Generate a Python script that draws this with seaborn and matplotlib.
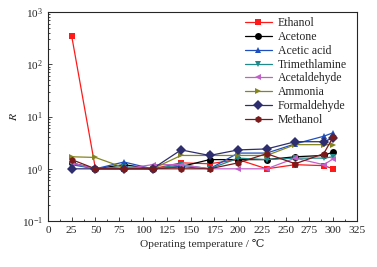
import pandas as pd
import numpy as np
import matplotlib
matplotlib.use("Agg")
import matplotlib.pyplot as plt
import seaborn as sns
from matplotlib.ticker import MultipleLocator, LogLocator

sns.set_style("ticks")
plt.rcParams['font.family'] = ['Liberation Serif', 'DejaVu Serif']
plt.rcParams['mathtext.fontset'] = 'stix'

# -----------------------------
# data
# -----------------------------
temps = [25, 50, 80, 110, 140, 170, 200, 230, 260, 290, 300]

ethanol        = [350, 1.0, 1.0, 1.0, 1.3, 1.25, 1.5, 1.0, 1.2, 1.15, 1.0]
acetone        = [1.3, 1.0, 1.2, 1.0, 1.1, 1.5, 1.5, 1.5, 1.7, 1.8, 2.1]
acetic_acid    = [1.2, 1.0, 1.35, 1.0, 1.1, 1.0, 2.0, 2.0, 3.0, 4.2, 4.9]
trimethlamine  = [1.25, 1.0, 1.1, 1.0, 1.2, 1.0, 1.6, 1.5, 1.6, 1.6, 1.7]
acetaldehyde   = [1.3, 1.0, 1.0, 1.2, 1.2, 1.0, 1.0, 1.0, 1.6, 1.2, 1.55]
ammonia        = [1.7, 1.65, 1.05, 1.0, 1.8, 1.8, 1.8, 1.8, 2.9, 2.9, 2.9]
formaldehyde   = [1.0, 1.0, 1.0, 1.0, 2.3, 1.8, 2.3, 2.4, 3.3, 3.3, 3.9]
methanol       = [1.5, 1.0, 1.0, 1.0, 1.0, 1.0, 1.3, 1.95, 1.25, 1.95, 4.1]

names = ['Ethanol', 'Acetone', 'Acetic acid', 'Trimethlamine',
         'Acetaldehyde', 'Ammonia', 'Formaldehyde', 'Methanol']
series = [ethanol, acetone, acetic_acid, trimethlamine,
          acetaldehyde, ammonia, formaldehyde, methanol]
colors = ['#ff1a1a', '#000000', '#1f4fbf', '#1f8a8a',
          '#c060c8', '#858520', '#2e2e6e', '#7a1a1a']
markers = ['s', 'o', '^', 'v', '<', '>', 'D', 'h']

df = pd.DataFrame({
    'T': np.tile(temps, len(names)),
    'R': np.concatenate(series),
    'gas': np.repeat(names, len(temps)),
})

fig = plt.figure(figsize=(3.77, 2.67), dpi=100)
ax = fig.add_axes([0.127, 0.172, 0.82, 0.783])

sns.lineplot(data=df, x='T', y='R', hue='gas', style='gas',
             hue_order=names, style_order=names,
             palette=dict(zip(names, colors)),
             markers=dict(zip(names, markers)), dashes=False,
             markersize=5, markeredgewidth=0, linewidth=0.9,
             sort=False, ax=ax)

ax.set_yscale('log')
ax.set_ylim(0.1, 1000)
ax.set_xlim(0, 325)
ax.xaxis.set_major_locator(MultipleLocator(25))
ax.xaxis.set_minor_locator(MultipleLocator(12.5))
ax.yaxis.set_major_locator(LogLocator(base=10))
ax.yaxis.set_minor_locator(LogLocator(base=10, subs=np.arange(2, 10)))
ax.tick_params(which='both', direction='in', labelsize=8.2, width=0.6)
ax.tick_params(which='major', length=3)
ax.tick_params(which='minor', length=1.5)
for s in ax.spines.values():
    s.set_linewidth(0.8)

ax.set_xlabel('Operating temperature / ℃', fontsize=8.2, labelpad=3)
ax.set_ylabel('$R$', fontsize=8.5, labelpad=1)

leg = ax.legend(loc='upper right', bbox_to_anchor=(0.985, 1.0),
                fontsize=8.5, frameon=False,
                handlelength=2.3, labelspacing=0.15, borderaxespad=0.05,
                handletextpad=0.5)
leg.set_title(None)

fig.savefig('out.png', dpi=100)
